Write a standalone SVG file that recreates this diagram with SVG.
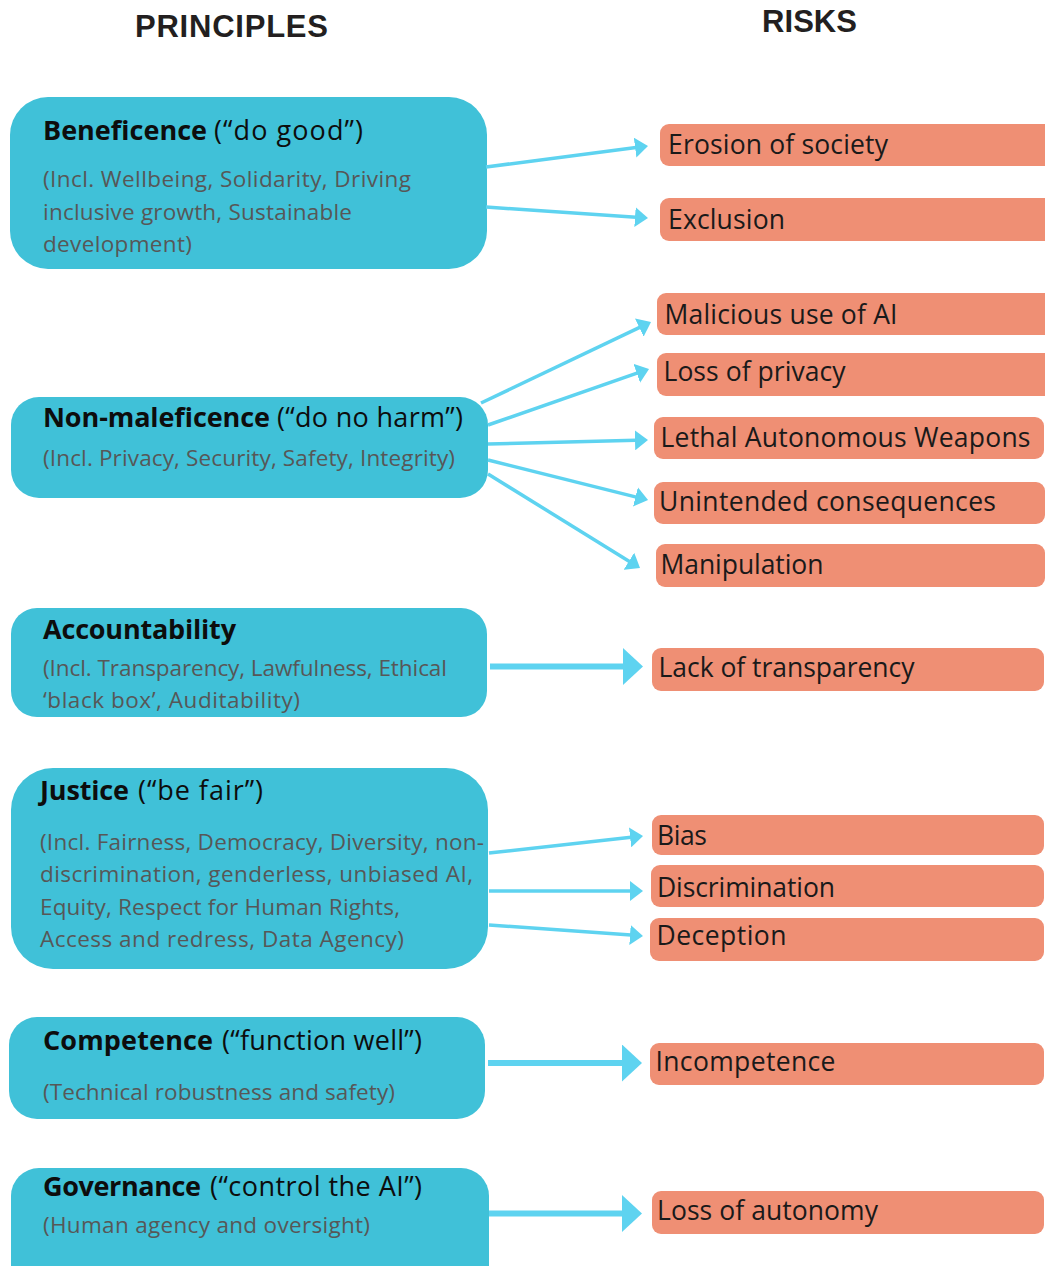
<svg xmlns="http://www.w3.org/2000/svg" width="1045" height="1266" viewBox="0 0 1045 1266">
<style>
.bg{fill:#ffffff}
.pb{fill:#40C1D8}
.rb{fill:#EF8F74}
.hd{font-family:"Liberation Sans",Arial,sans-serif;font-weight:700;font-size:31px;fill:#231f20}
.tt{font-family:"Open Sans","Noto Sans",sans-serif;font-size:27px;fill:#0d0d0d}
.tt .b{font-weight:700}
.sub{font-family:"Open Sans","Noto Sans",sans-serif;font-size:22.5px;fill:#575757}
.rt{font-family:"Open Sans","Noto Sans",sans-serif;font-size:26.5px;fill:#1a1a1a}
.ln{stroke:#5ED3F0;stroke-width:3.5;fill:none;marker-end:url(#ah)}
.lnb{stroke:#5ED3F0;stroke-width:6;fill:none;marker-end:url(#ahL)}
</style>
<defs>
<marker id="ah" viewBox="0 0 13 20" refX="1" refY="10" markerWidth="13" markerHeight="20" markerUnits="userSpaceOnUse" orient="auto">
<path d="M0,0 L13,10 L0,20 z" fill="#5ED3F0"/>
</marker>
<marker id="ahL" viewBox="0 0 20 37" refX="1" refY="18.5" markerWidth="20" markerHeight="37" markerUnits="userSpaceOnUse" orient="auto">
<path d="M0,0 L20,18.5 L0,37 z" fill="#5ED3F0"/>
</marker>
</defs>
<rect class="bg" x="0" y="0" width="1045" height="1266"/>

<g id="headings">
<text class="hd" x="135" y="37" textLength="193">PRINCIPLES</text>
<text class="hd" x="762" y="32" textLength="95">RISKS</text>
</g>

<g id="p-beneficence">
<rect class="pb" x="10" y="97" width="477" height="172" rx="38"/>
<text class="tt" y="139.5"><tspan class="b" x="43" textLength="164">Beneficence</tspan><tspan x="214" textLength="149">(“do good”)</tspan></text>
<text class="sub" x="43" y="187" textLength="368">(Incl. Wellbeing, Solidarity, Driving</text>
<text class="sub" x="43" y="219.5" textLength="309">inclusive growth, Sustainable</text>
<text class="sub" x="43" y="252" textLength="149">development)</text>
</g>

<g id="p-nonmaleficence">
<rect class="pb" x="11" y="397" width="477" height="101" rx="28"/>
<text class="tt" y="427"><tspan class="b" x="43" textLength="227">Non-maleficence</tspan><tspan x="277" textLength="186">(“do no harm”)</tspan></text>
<text class="sub" x="43" y="466" textLength="412">(Incl. Privacy, Security, Safety, Integrity)</text>
</g>

<g id="p-accountability">
<rect class="pb" x="11" y="608" width="476" height="109" rx="26"/>
<text class="tt" y="638.5"><tspan class="b" x="43" textLength="193">Accountability</tspan></text>
<text class="sub" x="43" y="676" textLength="404">(Incl. Transparency, Lawfulness, Ethical</text>
<text class="sub" x="43" y="707.5" textLength="257">‘black box’, Auditability)</text>
</g>

<g id="p-justice">
<rect class="pb" x="11" y="768" width="477" height="201" rx="42"/>
<text class="tt" y="799.5"><tspan class="b" x="40" textLength="89">Justice</tspan><tspan x="138" textLength="125">(“be fair”)</tspan></text>
<text class="sub" x="40" y="849.5" textLength="444">(Incl. Fairness, Democracy, Diversity, non-</text>
<text class="sub" x="40" y="882" textLength="433">discrimination, genderless, unbiased AI,</text>
<text class="sub" x="40" y="914.5" textLength="360">Equity, Respect for Human Rights,</text>
<text class="sub" x="40" y="946.5" textLength="364">Access and redress, Data Agency)</text>
</g>

<g id="p-competence">
<rect class="pb" x="9" y="1017" width="476" height="102" rx="28"/>
<text class="tt" y="1049.5"><tspan class="b" x="43" textLength="170">Competence</tspan><tspan x="222" textLength="200">(“function well”)</tspan></text>
<text class="sub" x="43" y="1100" textLength="352">(Technical robustness and safety)</text>
</g>

<g id="p-governance">
<rect class="pb" x="11" y="1168" width="478" height="125" rx="28"/>
<text class="tt" y="1195.5"><tspan class="b" x="43" textLength="158">Governance</tspan><tspan x="210" textLength="212">(“control the AI”)</tspan></text>
<text class="sub" x="43" y="1232.5" textLength="327">(Human agency and oversight)</text>
</g>

<g id="r-erosion"><rect class="rb" x="660" y="124" width="395" height="42" rx="9"/><text class="rt" x="668" y="154" textLength="220">Erosion of society</text></g>
<g id="r-exclusion"><rect class="rb" x="660" y="198" width="395" height="43" rx="9"/><text class="rt" x="668" y="228.5" textLength="117">Exclusion</text></g>
<g id="r-malicious"><rect class="rb" x="657" y="293" width="398" height="42" rx="9"/><text class="rt" x="664.5" y="323.5" textLength="233">Malicious use of AI</text></g>
<g id="r-privacy"><rect class="rb" x="657" y="353" width="398" height="43" rx="9"/><text class="rt" x="663.5" y="381" textLength="182">Loss of privacy</text></g>
<g id="r-laws"><rect class="rb" x="654" y="417" width="390" height="42" rx="9"/><text class="rt" x="660.5" y="447" textLength="370">Lethal Autonomous Weapons</text></g>
<g id="r-unintended"><rect class="rb" x="654" y="482" width="391" height="42" rx="9"/><text class="rt" x="659" y="511" textLength="337">Unintended consequences</text></g>
<g id="r-manipulation"><rect class="rb" x="656" y="544" width="389" height="43" rx="9"/><text class="rt" x="660.5" y="573.5" textLength="163">Manipulation</text></g>
<g id="r-transparency"><rect class="rb" x="652" y="648" width="392" height="43" rx="9"/><text class="rt" x="658.5" y="677" textLength="256">Lack of transparency</text></g>
<g id="r-bias"><rect class="rb" x="652" y="815" width="392" height="40" rx="9"/><text class="rt" x="657" y="845" textLength="50">Bias</text></g>
<g id="r-discrimination"><rect class="rb" x="651" y="865" width="393" height="42" rx="9"/><text class="rt" x="657" y="896.5" textLength="178">Discrimination</text></g>
<g id="r-deception"><rect class="rb" x="650" y="918" width="394" height="43" rx="9"/><text class="rt" x="656.5" y="945" textLength="130">Deception</text></g>
<g id="r-incompetence"><rect class="rb" x="650" y="1043" width="394" height="42" rx="9"/><text class="rt" x="655.5" y="1071" textLength="180">Incompetence</text></g>
<g id="r-autonomy"><rect class="rb" x="652" y="1191" width="392" height="43" rx="9"/><text class="rt" x="657" y="1220" textLength="221">Loss of autonomy</text></g>

<g id="connectors">
<line class="ln" x1="486" y1="167" x2="636.1" y2="147.5"/>
<line class="ln" x1="486" y1="207" x2="636" y2="217.2"/>
<line class="ln" x1="481" y1="403" x2="640.2" y2="327.2"/>
<line class="ln" x1="488" y1="425" x2="637.7" y2="372.9"/>
<line class="ln" x1="488" y1="444" x2="636" y2="440.3"/>
<line class="ln" x1="488" y1="460" x2="636.4" y2="497.1"/>
<line class="ln" x1="488" y1="474" x2="629.8" y2="561.7"/>
<line class="lnb" x1="490" y1="666.5" x2="624" y2="666.5"/>
<line class="ln" x1="489" y1="853" x2="631.1" y2="837.3"/>
<line class="ln" x1="489" y1="891" x2="631" y2="891"/>
<line class="ln" x1="489" y1="925" x2="631" y2="935.1"/>
<line class="lnb" x1="488" y1="1063" x2="623" y2="1063"/>
<line class="lnb" x1="489" y1="1213.5" x2="623" y2="1213.5"/>
</g>
</svg>
